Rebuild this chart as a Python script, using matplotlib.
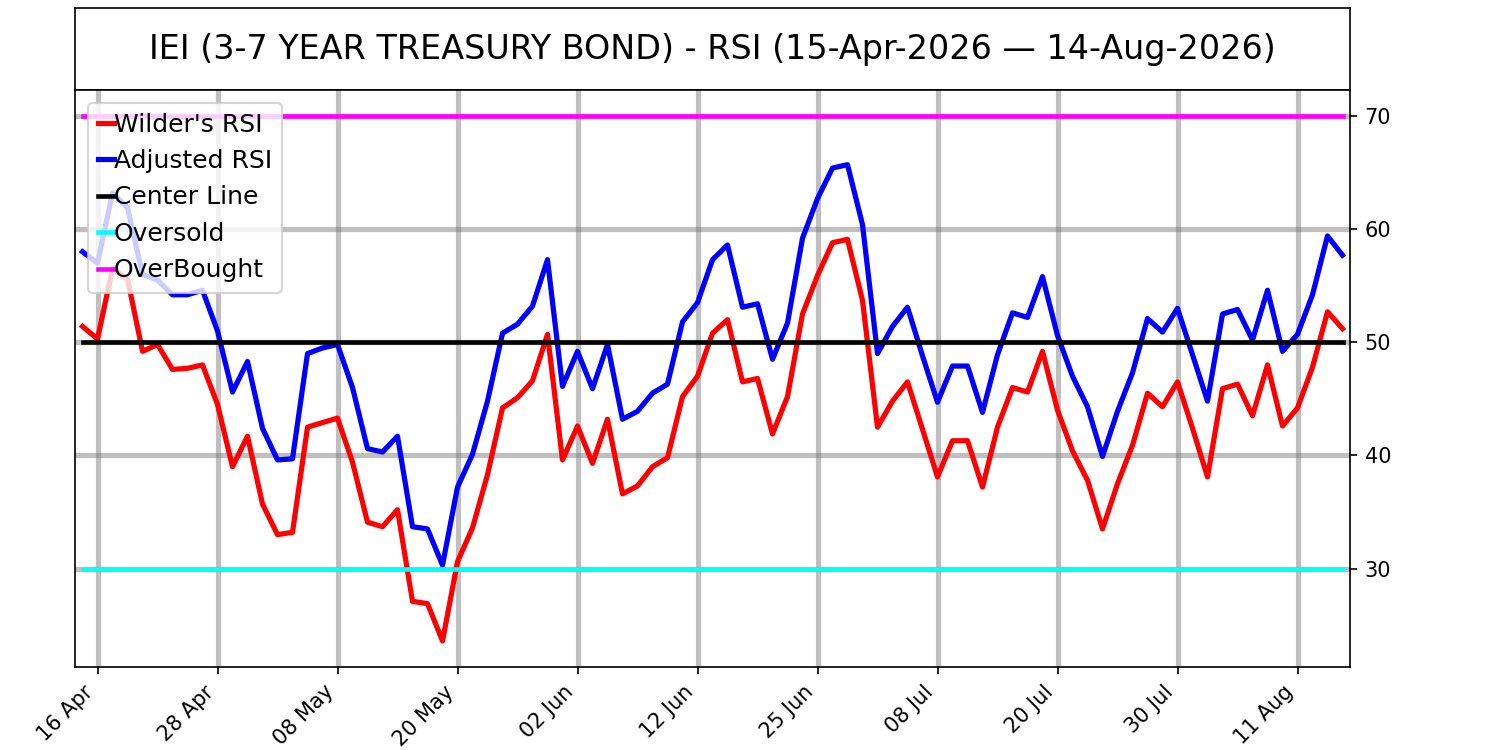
import matplotlib
matplotlib.use("Agg")
import matplotlib.pyplot as plt
import pandas as pd

# trading days 15 Apr - 14 Aug 2026 (market holidays removed)
holidays = ["2026-05-25", "2026-06-19", "2026-07-03"]
dates = pd.bdate_range("2026-04-15", "2026-08-14")
dates = dates[~dates.isin(pd.to_datetime(holidays))]

wilder_rsi = [51.4, 50.3, 56.5, 55.6, 49.2, 49.8, 47.6, 47.7, 48.0, 44.5,
              39.0, 41.7, 35.7, 33.0, 33.2, 42.5, 42.9, 43.3, 39.4, 34.1,
              33.7, 35.2, 27.1, 26.9, 23.6, 30.6, 33.6, 38.3, 44.2, 45.1,
              46.6, 50.7, 39.6, 42.6, 39.3, 43.2, 36.6, 37.3, 39.0, 39.8,
              45.2, 47.0, 50.8, 52.0, 46.5, 46.8, 41.9, 45.2, 52.5, 55.9,
              58.8, 59.1, 53.7, 42.5, 44.8, 46.5, 42.3, 38.1, 41.3, 41.3,
              37.2, 42.5, 46.0, 45.6, 49.2, 44.0, 40.4, 37.8, 33.5, 37.5,
              40.9, 45.5, 44.3, 46.5, 42.4, 38.1, 45.9, 46.3, 43.5, 48.0,
              42.6, 44.2, 47.8, 52.7, 51.2]

adjusted_rsi = [58.0, 57.0, 63.2, 61.9, 56.0, 55.5, 54.2, 54.2, 54.6, 51.0,
                45.6, 48.3, 42.4, 39.6, 39.7, 49.0, 49.5, 49.8, 46.0, 40.6,
                40.3, 41.7, 33.7, 33.5, 30.3, 37.2, 40.1, 44.8, 50.8, 51.6,
                53.2, 57.3, 46.1, 49.2, 45.9, 49.8, 43.2, 43.9, 45.5, 46.3,
                51.8, 53.5, 57.3, 58.6, 53.1, 53.4, 48.5, 51.7, 59.2, 62.7,
                65.4, 65.7, 60.4, 49.0, 51.4, 53.1, 48.8, 44.7, 47.9, 47.9,
                43.8, 48.9, 52.6, 52.2, 55.8, 50.6, 47.0, 44.3, 39.9, 43.9,
                47.3, 52.1, 50.9, 53.0, 48.9, 44.8, 52.5, 52.9, 50.2, 54.6,
                49.2, 50.7, 54.2, 59.4, 57.7]

center_level = 50
oversold_level = 30
overbought_level = 70

title = "IEI (3-7 YEAR TREASURY BOND) - RSI (15-Apr-2026 \u2014 14-Aug-2026)"

n = len(dates)
x = list(range(n))

fig = plt.figure(figsize=(10, 5), dpi=150)

# title box
tax = fig.add_axes([0.05, 0.88, 0.85, 0.109])
tax.set_xticks([])
tax.set_yticks([])
tax.text(0.5, 0.5, title, ha="center", va="center", fontsize=16)

ax = fig.add_axes([0.05, 0.1107, 0.85, 0.7693])
ax.plot(x, wilder_rsi, color="red", lw=2.5, label="Wilder's RSI")
ax.plot(x, adjusted_rsi, color="blue", lw=2.5, label="Adjusted RSI")
ax.plot(x, [center_level] * n, color="black", lw=2.2, label="Center Line")
ax.plot(x, [oversold_level] * n, color="cyan", lw=2.2, label="Oversold")
ax.plot(x, [overbought_level] * n, color="magenta", lw=2.2, label="OverBought")

ax.set_xlim(-0.5, n - 0.5)
ax.set_ylim(21.3, 72.3)
ax.yaxis.tick_right()
ax.set_yticks([30, 40, 50, 60, 70])

tick_idx = list(range(1, n, 8))
ax.set_xticks(tick_idx)
ax.set_xticklabels([dates[i].strftime("%d %b") for i in tick_idx],
                   rotation=45, ha="right")

ax.grid(True, color="gray", alpha=0.5, lw=2.5)
ax.set_axisbelow(True)

ax.legend(loc="upper left", fontsize=12, handlelength=0.65, handletextpad=0,
          labelspacing=0.5)

fig.savefig("out.png")
